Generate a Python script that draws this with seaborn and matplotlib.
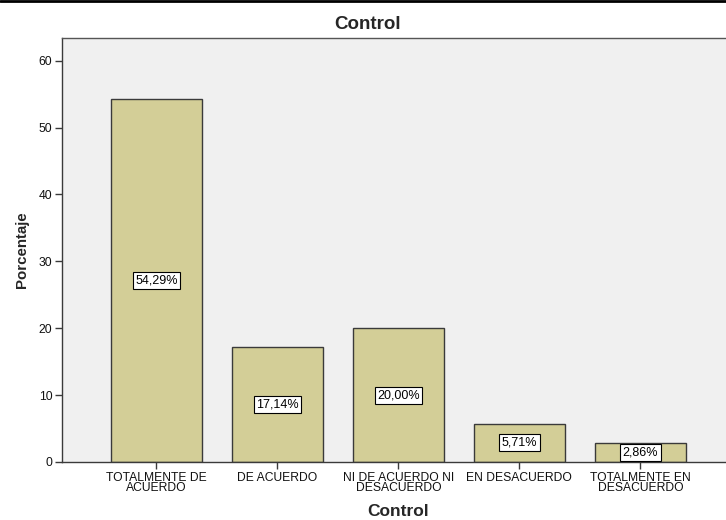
import matplotlib
matplotlib.use("Agg")
import matplotlib.pyplot as plt
import seaborn as sns
import pandas as pd
from matplotlib.lines import Line2D

categories = ["TOTALMENTE DE\nACUERDO", "DE ACUERDO", "NI DE ACUERDO NI\nDESACUERDO",
              "EN DESACUERDO", "TOTALMENTE EN\nDESACUERDO"]
percentages = [54.29, 17.14, 20.00, 5.71, 2.86]
yticks = [0, 10, 20, 30, 40, 50, 60]

df = pd.DataFrame({"cat": categories, "pct": percentages})

sns.set_theme(style="white")
plt.rcParams["font.family"] = ["Liberation Sans", "DejaVu Sans"]

fig = plt.figure(figsize=(7.26, 5.2), dpi=100)
ax = fig.add_axes([62 / 726, 1 - 462 / 520, 1 - 62 / 726 + 0.002, (462 - 38) / 520])
ax.set_facecolor("#f0f0f0")

sns.barplot(data=df, x="cat", y="pct", ax=ax, color="#d3ce97", saturation=1,
            width=0.75, edgecolor="#3a3a3a", linewidth=1.0, errorbar=None)

for i, v in enumerate(percentages):
    ax.text(i, v / 2, f"{v:.2f}%".replace(".", ","), ha="center", va="center",
            fontsize=9, color="black",
            bbox=dict(boxstyle="square,pad=0.2", facecolor="white", edgecolor="black", linewidth=0.8))

ax.set_xlim(-0.78, 4.72)
ax.set_ylim(0, 63.4)
ax.set_yticks(yticks)
ax.tick_params(axis="both", direction="out", length=5, width=1, color="#3a3a3a",
               labelsize=8.7, labelcolor="#111111", pad=2, bottom=True, left=True)
for s in ax.spines.values():
    s.set_color("#555555")
    s.set_linewidth(1.0)
ax.spines["left"].set_color("#3a3a3a")
ax.spines["bottom"].set_color("#3a3a3a")
for lbl in ax.get_xticklabels():
    lbl.set_linespacing(0.85)

ax.set_xlabel("")
ax.set_ylabel("Porcentaje", fontsize=10.8, fontweight="bold", labelpad=7)
fig.text(398 / 726, 1 - 512 / 520, "Control", ha="center", va="center",
         fontsize=12.5, fontweight="bold")
fig.text(368 / 726, 1 - 24 / 520, "Control", ha="center", va="center",
         fontsize=13.5, fontweight="bold")

fig.add_artist(Line2D([0, 1], [0.999, 0.999], color="black", linewidth=2, transform=fig.transFigure))

fig.savefig("out.png", dpi=100)
